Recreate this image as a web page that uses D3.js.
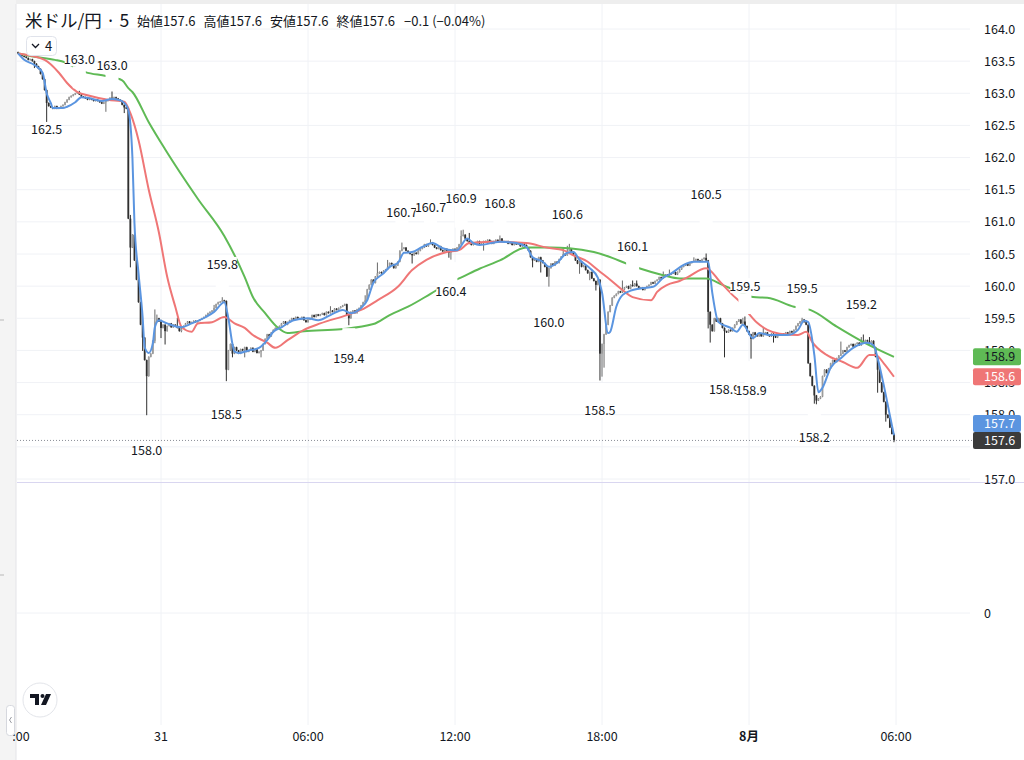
<!DOCTYPE html>
<html>
<head>
<meta charset="utf-8">
<script src="https://cdn.jsdelivr.net/npm/d3@7"></script>
<style>
  body { margin: 0; background: #fff; overflow: hidden; }
  svg { display: block; font-family: "Noto Sans CJK JP", "Noto Sans", sans-serif; }
</style>
</head>
<body>
<svg id="chart" width="1024" height="760"></svg>
<script>
// ---- data (5 min bars, bar 0 = 30 Jul 18:00) ----
const firstBar = 2;
const firstOpen = 163.64;
const closes = [
  163.62, 163.60, 163.58, 163.57, 163.55, 163.52, 163.53, 163.50,
  163.46, 163.42, 163.38, 163.30, 163.22,
  163.05, 162.85, 162.80, 162.78, 162.76,
  162.80, 162.76, 162.78, 162.80, 162.82, 162.86, 162.90, 162.94, 162.96, 162.98,
  163.00, 163.02, 162.98, 162.95, 162.94, 162.92, 162.90, 162.92, 162.90, 162.88,
  162.90, 162.88, 162.86, 162.84, 162.86, 162.88, 162.90, 162.93, 162.92, 162.94,
  162.92, 162.90, 162.88, 162.82, 162.78, 162.76, 161.05, 160.60, 160.80, 160.40,
  160.10, 159.75, 159.40, 159.20, 158.85, 158.60, 158.90, 158.95, 159.15, 159.45,
  159.50, 159.45, 159.35, 159.40, 159.30, 159.38, 159.42, 159.36, 159.40, 159.38,
  159.35, 159.30, 159.34, 159.38, 159.42, 159.45, 159.42, 159.44, 159.46, 159.44,
  159.46, 159.48, 159.50, 159.52, 159.55, 159.58, 159.60, 159.62, 159.66, 159.72,
  159.75, 159.76, 159.78, 159.77, 158.70, 159.00, 159.10, 158.95, 159.05, 159.00,
  158.95, 159.02, 159.00, 159.05, 158.98, 159.00, 159.04, 158.98, 159.02, 158.96,
  158.98, 159.00, 159.10, 159.18, 159.25, 159.22, 159.28, 159.32, 159.35, 159.34,
  159.38, 159.42, 159.45, 159.40, 159.44, 159.47, 159.50, 159.48, 159.52, 159.50,
  159.48, 159.52, 159.47, 159.44, 159.48, 159.50, 159.55, 159.52, 159.56, 159.54,
  159.56, 159.58, 159.55, 159.60, 159.58, 159.62, 159.60, 159.65, 159.63, 159.66,
  159.68, 159.70, 159.72, 159.55, 159.50, 159.60, 159.62, 159.58, 159.64, 159.66,
  159.70, 159.75, 159.78, 159.95, 160.02, 160.10, 160.05, 160.15, 160.20, 160.22,
  160.20, 160.24, 160.26, 160.30, 160.36, 160.34, 160.28, 160.32, 160.38, 160.55,
  160.58, 160.60, 160.55, 160.52, 160.50, 160.48, 160.52, 160.50, 160.55, 160.58,
  160.60, 160.65, 160.62, 160.66, 160.68, 160.64, 160.60, 160.58, 160.62, 160.56,
  160.54, 160.58, 160.55, 160.52, 160.56, 160.58, 160.55, 160.60, 160.65, 160.78,
  160.80, 160.74, 160.70, 160.66, 160.64, 160.68, 160.65, 160.70, 160.66, 160.68,
  160.70, 160.68, 160.72, 160.70, 160.66, 160.70, 160.72, 160.70, 160.74, 160.70,
  160.68, 160.70, 160.66, 160.68, 160.64, 160.68, 160.65, 160.66, 160.62, 160.66,
  160.64, 160.60, 160.55, 160.45, 160.40, 160.42, 160.38, 160.45, 160.40, 160.36,
  160.30, 160.15, 160.28, 160.35, 160.32, 160.38, 160.36, 160.42, 160.46, 160.50,
  160.48, 160.55, 160.58, 160.52, 160.48, 160.40, 160.35, 160.38, 160.30, 160.32,
  160.25, 160.20, 160.22, 160.12, 160.08, 160.02, 160.10, 158.95, 159.10, 159.25,
  159.40, 159.60, 159.70, 159.82, 159.85, 159.88, 159.92, 159.90, 159.95, 159.98,
  160.00, 159.96, 160.02, 160.00, 160.04, 160.00, 159.96, 159.98, 159.94, 159.98,
  160.00, 160.02, 160.06, 160.04, 160.08, 160.10, 160.14, 160.12, 160.16, 160.18,
  160.16, 160.18, 160.20, 160.22, 160.18, 160.22, 160.26, 160.30, 160.32, 160.35,
  160.32, 160.36, 160.38, 160.40, 160.42, 160.40, 160.38, 160.42, 160.44, 160.40,
  159.60, 159.40, 159.30, 159.50, 159.45, 159.50, 159.42, 159.35, 159.30, 159.28,
  159.32, 159.30, 159.35, 159.40, 159.45, 159.48, 159.42, 159.45, 159.38, 159.30,
  159.25, 159.18, 159.28, 159.24, 159.22, 159.26, 159.22, 159.25, 159.28, 159.24,
  159.22, 159.26, 159.24, 159.20, 159.25, 159.24, 159.26, 159.25, 159.28, 159.26,
  159.30, 159.28, 159.32, 159.38, 159.42, 159.45, 159.48, 159.44, 159.40, 158.80,
  158.60, 158.45, 158.30, 158.22, 158.25, 158.28, 158.60, 158.70, 158.65, 158.72,
  158.80, 158.85, 158.82, 158.88, 158.92, 158.95, 159.00, 158.98, 159.05, 159.08,
  159.10, 159.06, 159.10, 159.12, 159.08, 159.14, 159.12, 159.16, 159.14, 159.10,
  159.15, 159.05, 158.90, 158.70, 158.50, 158.35, 158.20, 158.00, 157.95, 157.80,
  157.70, 157.60
];
// visible wicks: [bar, high, low]
const extremes = [
  [10, null, 163.40], [16, null, 162.50], [30, 163.00, null], [32, 163.03, null],
  [45, null, 162.72], [48, 163.02, null], [54, null, 162.70], [57, 161.10, 160.30],
  [63, null, 159.00], [65, null, 158.00], [66, null, 158.70], [69, 159.63, 159.12],
  [70, 159.55, null], [72, 159.47, 159.20], [74, null, 159.10], [80, 159.50, null],
  [82, null, 159.29], [98, 159.70, null], [102, 159.82, null], [104, null, 158.53],
  [105, null, 158.85], [107, null, 158.90], [113, null, 158.90], [121, null, 158.90],
  [155, 159.68, null], [164, null, 159.40], [172, 159.85, null], [178, 160.36, null],
  [183, 160.40, null], [190, 160.67, null], [195, null, 160.36], [204, 160.72, null],
  [213, null, 160.45], [214, null, 160.42], [219, 160.86, null], [220, 160.87, null],
  [223, 160.82, null], [230, null, 160.56], [238, 160.78, null], [254, null, 160.30],
  [258, null, 160.22], [262, null, 160.00], [269, 160.60, null], [271, 160.62, null],
  [272, 160.65, null], [277, null, 160.20], [282, null, 160.10], [285, null, 159.94],
  [287, null, 158.54], [288, null, 158.60], [289, null, 158.74], [298, 160.08, null],
  [303, 160.08, null], [305, 160.08, null], [318, 160.22, null], [321, 160.25, null],
  [333, 160.44, null], [339, 160.50, null], [340, null, 159.35], [341, null, 159.13],
  [348, null, 158.90], [357, 159.50, null], [358, 159.52, null], [361, null, 158.88],
  [367, 159.36, null], [372, null, 159.13], [386, 159.50, null], [392, null, 158.18],
  [393, null, 158.17], [405, 159.13, null], [415, 159.20, null], [416, 159.24, null],
  [419, 159.20, null], [423, null, 158.35], [427, null, 157.90], [431, null, 157.58]
];
// moving averages: [bar, price]
const blueMA = [
  [2,163.62],[5,163.52],[10,163.44],[14,163.32],[16,163.0],[18,162.85],[19,162.77],[24,162.77],
  [26,162.79],[30,162.86],[33,162.94],[36,162.93],[43,162.88],[48,162.91],[51,162.9],[54,162.85],
  [56,162.74],[58,162.0],[59,160.98],[61,160.2],[63,159.52],[64,159.05],[66,158.96],[68,159.11],
  [69,159.36],[71,159.47],[75,159.42],[82,159.36],[87,159.42],[94,159.52],[98,159.6],[103,159.75],
  [105,159.5],[107,159.1],[108,158.98],[110,158.96],[115,159.0],[120,159.04],[124,159.16],[127,159.29],
  [131,159.36],[137,159.47],[144,159.5],[149,159.47],[155,159.55],[161,159.63],[165,159.58],[170,159.66],
  [173,159.78],[176,160.05],[181,160.2],[184,160.3],[188,160.36],[191,160.52],[195,160.53],[200,160.61],
  [205,160.67],[210,160.59],[215,160.56],[217,160.56],[222,160.74],[225,160.67],[228,160.64],[238,160.69],
  [246,160.67],[251,160.61],[254,160.45],[259,160.38],[262,160.3],[266,160.36],[271,160.52],[274,160.53],
  [277,160.41],[282,160.28],[286,160.13],[288,159.9],[291,159.27],[292,159.29],[295,159.68],[298,159.86],
  [303,159.94],[308,159.97],[313,159.99],[318,160.13],[322,160.2],[328,160.33],[333,160.38],[340,160.38],
  [342,159.9],[345,159.44],[351,159.35],[354,159.29],[357,159.4],[362,159.19],[365,159.27],[370,159.24],
  [379,159.24],[384,159.32],[387,159.46],[389,159.44],[392,158.93],[394,158.35],[396,158.42],[400,158.73],
  [405,158.88],[411,159.04],[418,159.12],[421,159.08],[423,158.88],[426,158.46],[429,157.99],[431,157.68]
];
const redMA = [
  [2,163.62],[15,163.52],[22,163.32],[26,163.16],[31,163.02],[36,162.97],[46,162.9],[54,162.87],
  [57,162.69],[61,162.27],[66,161.5],[71,160.83],[75,160.15],[79,159.68],[82,159.37],[87,159.29],
  [90,159.42],[97,159.44],[103,159.52],[108,159.42],[113,159.35],[117,159.24],[124,159.12],[128,159.04],
  [134,159.16],[142,159.32],[150,159.42],[163,159.55],[170,159.63],[178,159.78],[188,159.99],[195,160.25],
  [202,160.41],[212,160.53],[218,160.56],[223,160.67],[238,160.69],[251,160.67],[261,160.6],[269,160.56],
  [274,160.48],[281,160.38],[286,160.25],[292,160.1],[298,159.94],[303,159.83],[312,159.78],[315,159.91],
  [320,160.02],[326,160.08],[330,160.14],[339,160.28],[346,160.06],[352,159.86],[356,159.74],[360,159.57],
  [364,159.43],[369,159.32],[375,159.26],[384,159.24],[388,159.29],[391,159.13],[398,158.93],[406,158.82],
  [413,158.73],[419,158.93],[422,158.93],[426,158.8],[431,158.59]
];
const greenMA = [
  [2,163.62],[10,163.57],[20,163.52],[25,163.48],[30,163.40],[35,163.33],[45,163.27],[53,163.2],
  [56,163.08],[58,163.02],[66,162.55],[74,162.13],[90,161.36],[103,160.78],[113,160.14],[117,159.83],
  [123,159.58],[129,159.36],[134,159.27],[142,159.3],[160,159.33],[176,159.41],[184,159.55],[193,159.68],
  [204,159.88],[213,160.05],[218,160.12],[228,160.27],[238,160.4],[251,160.6],[263,160.6],[272,160.59],
  [284,160.53],[293,160.44],[300,160.35],[307,160.27],[318,160.17],[326,160.12],[339,160.12],[347,160.02],
  [356,159.9],[362,159.83],[369,159.82],[382,159.68],[390,159.63],[403,159.37],[416,159.13],[431,158.9]
];
// pivot labels: [bar, text, anchor price, kind]
const pivotLabels = [
  [16,"162.5",162.43,"low"], [32,"163.0",163.53,"high"], [48,"163.0",163.44,"high"],
  [65,"158.0",157.45,"low"], [102,"159.8",160.33,"high"], [104,"158.5",158.0,"low"],
  [164,"159.4",158.88,"low"], [190,"160.7",161.15,"high"], [204,"160.7",161.22,"high"],
  [214,"160.4",159.91,"low"], [219,"160.9",161.36,"high"], [238,"160.8",161.28,"high"],
  [262,"160.0",159.44,"low"], [271,"160.6",161.12,"high"], [287,"158.5",158.06,"low"],
  [303,"160.1",160.62,"high"], [339,"160.5",161.43,"high"], [348,"158.9",158.4,"low"],
  [358,"159.5",160.0,"high"], [361,"158.9",158.37,"low"], [386,"159.5",159.97,"high"],
  [392,"158.2",157.65,"low"], [415,"159.2",159.71,"high"]
];
const priceTicks = [157.0, 157.5, 158.0, 158.5, 159.0, 159.5, 160.0, 160.5, 161.0, 161.5, 162.0, 162.5, 163.0, 163.5, 164.0];
const timeTicks = [[0, "18:00"], [72, "31"], [144, "06:00"], [216, "12:00"], [288, "18:00"], [360, "8月"], [432, "06:00"]];
const headerTitle = "米ドル/円 · 5";
const headerFields = [["始値", "157.6"], ["高値", "157.6"], ["安値", "157.6"], ["終値", "157.6"]];
const headerChange = "−0.1 (−0.04%)";

// ---- colours ----
const blueC = "#5b95e0", redC = "#ef7676", greenC = "#5fba55";
const upC = "#9c9c9c", upWick = "#6a6a6a", downC = "#2f2f2f", textC = "#131722", gridC = "#f0f2f6";

const svg = d3.select("#chart");
const x = d3.scaleLinear().domain([0, 432]).range([14, 896]);
const y = d3.scaleLinear().domain([157, 164]).range([479, 29]);
const lowerY = 613; // zero line of the lower pane

// bars
const bars = closes.map((c, k) => {
  const i = firstBar + k;
  const o = k === 0 ? firstOpen : closes[k - 1];
  return { i, o, c, h: Math.max(o, c), l: Math.min(o, c) };
});
extremes.forEach(([i, h, l]) => {
  const b = bars[i - firstBar];
  if (h != null) b.h = Math.max(b.h, h);
  if (l != null) b.l = Math.min(b.l, l);
});

// frame
svg.append("rect").attr("width", 1024).attr("height", 760).attr("fill", "#fff");
svg.append("rect").attr("width", 1024).attr("height", 4).attr("fill", "#eeeeee");
svg.append("rect").attr("width", 16).attr("height", 760).attr("fill", "#f4f4f4");
svg.append("line").attr("x1", 16).attr("x2", 16).attr("y1", 4).attr("y2", 760).attr("stroke", "#e4e4e8");
[320, 575].forEach(v => svg.append("line").attr("x1", 0).attr("x2", 4).attr("y1", v).attr("y2", v).attr("stroke", "#b8b8b8"));

const defs = svg.append("defs");
defs.append("clipPath").attr("id", "plot").append("rect").attr("x", 17).attr("y", 4).attr("width", 953).attr("height", 478);
defs.append("clipPath").attr("id", "axisClip").append("rect").attr("x", 13).attr("y", 0).attr("width", 1011).attr("height", 760);

// grid
const grid = svg.append("g");
grid.selectAll(".hg").data(priceTicks).enter().append("line")
  .attr("x1", 17).attr("x2", 970).attr("y1", d => y(d)).attr("y2", d => y(d))
  .attr("stroke", gridC);
grid.append("line").attr("x1", 17).attr("x2", 970).attr("y1", lowerY).attr("y2", lowerY).attr("stroke", gridC);
grid.selectAll(".vg").data(timeTicks.filter(d => x(d[0]) > 17)).enter().append("line")
  .attr("x1", d => x(d[0])).attr("x2", d => x(d[0])).attr("y1", 4).attr("y2", 725)
  .attr("stroke", gridC);

// pane separator
svg.append("line").attr("x1", 17).attr("x2", 1024).attr("y1", 482.5).attr("y2", 482.5).attr("stroke", "#d9d6f0");

const plot = svg.append("g").attr("clip-path", "url(#plot)");

// current price line
const last = bars[bars.length - 1];
svg.append("line").attr("x1", 17).attr("x2", 972).attr("y1", y(last.c)).attr("y2", y(last.c))
  .attr("stroke", "#8a8d96").attr("stroke-dasharray", "1,2");

// candles
const bw = 1.8;
const cg = plot.append("g");
cg.selectAll(".wick").data(bars).enter().append("line")
  .attr("x1", d => x(d.i)).attr("x2", d => x(d.i))
  .attr("y1", d => y(d.h) - 0.5).attr("y2", d => y(d.l) + 0.5)
  .attr("stroke", d => d.c >= d.o ? upWick : downC).attr("stroke-width", 1);
cg.selectAll(".body").data(bars).enter().append("rect")
  .attr("x", d => x(d.i) - bw / 2).attr("width", bw)
  .attr("y", d => y(Math.max(d.o, d.c)))
  .attr("height", d => Math.max(1.2, Math.abs(y(d.o) - y(d.c))))
  .attr("fill", d => d.c >= d.o ? upC : downC);

// moving averages
const maLine = d3.line().x(d => x(d[0])).y(d => y(d[1])).curve(d3.curveMonotoneX);
[[greenMA, greenC], [redMA, redC], [blueMA, blueC]].forEach(([pts, col]) => {
  plot.append("path").attr("d", maLine(pts)).attr("fill", "none")
    .attr("stroke", col).attr("stroke-width", 2).attr("stroke-linejoin", "round");
});

// pivot labels (white label box with a pointer toward the bar)
const lg = plot.append("g");
pivotLabels.slice().sort((a, b) => a[0] - b[0]).forEach(([i, txt, anchor, kind]) => {
  const b = bars[i - firstBar];
  const cx = x(i), ty = y(anchor);
  if (kind === "high") {
    const top = ty + 7, bottom = y(b.h) - 3;
    const len = Math.min(22, bottom - top);
    if (len > 0) lg.append("rect").attr("x", cx - 6.5).attr("y", top).attr("width", 13).attr("height", len).attr("fill", "#fff");
  } else {
    const bottom = ty - 8, top = y(b.l) + 3;
    const len = Math.min(22, bottom - top);
    if (len > 0) lg.append("rect").attr("x", cx - 6.5).attr("y", bottom - len).attr("width", 13).attr("height", len).attr("fill", "#fff");
  }
  const box = lg.append("rect").attr("y", ty - 8).attr("height", 15).attr("fill", "#fff");
  const t = lg.append("text").attr("x", cx).attr("y", ty + 4.5).attr("text-anchor", "middle")
    .attr("font-size", 12.5).attr("fill", textC).text(txt);
  const w = t.node().getComputedTextLength() - 2;
  box.attr("x", cx - w / 2).attr("width", w);
});

// price tags
const tags = [
  { v: greenMA[greenMA.length - 1][1], bg: greenC, fg: textC },
  { v: redMA[redMA.length - 1][1], bg: redC, fg: "#fff" },
  { v: blueMA[blueMA.length - 1][1], bg: blueC, fg: "#fff" },
  { v: last.c, bg: "#3b3b3b", fg: "#fff" }
];
tags.forEach(t => t.y = y(t.v));
tags.sort((a, b) => b.y - a.y);
for (let k = 1; k < tags.length; k++) {
  if (tags[k - 1].y - tags[k].y < 17) tags[k].y = tags[k - 1].y - 17;
}

// price axis labels (the one under the last-price tag is hidden)
const ax = svg.append("g");
ax.selectAll(".pt").data(priceTicks.filter(d => Math.abs(y(d) - y(last.c)) > 9)).enter().append("text")
  .attr("x", 984).attr("y", d => y(d) + 4.5).attr("font-size", 12.5).attr("fill", textC)
  .text(d => d.toFixed(1));
ax.append("text").attr("x", 984).attr("y", lowerY + 4.5).attr("font-size", 12.5).attr("fill", textC).text("0");

tags.forEach(t => {
  ax.append("rect").attr("x", 973).attr("y", t.y - 8.5).attr("width", 48).attr("height", 17)
    .attr("rx", 2).attr("fill", t.bg);
  ax.append("text").attr("x", 984).attr("y", t.y + 4.5).attr("font-size", 12.5).attr("fill", t.fg)
    .text(t.v.toFixed(1));
});

// time axis
const tx = svg.append("g").attr("clip-path", "url(#axisClip)");
tx.selectAll(".tt").data(timeTicks).enter().append("text")
  .attr("x", d => x(d[0])).attr("y", 741).attr("text-anchor", "middle")
  .attr("font-size", 12.5).attr("fill", textC)
  .attr("font-weight", d => d[1] === "8月" ? 700 : 400)
  .text(d => d[1]);

// header
svg.append("text").attr("x", 25).attr("y", 27).attr("font-size", 17.5).attr("fill", textC).text(headerTitle);
let hx = 137;
headerFields.forEach(([k, v]) => {
  const t = svg.append("text").attr("x", hx).attr("y", 26).attr("font-size", 13).attr("fill", textC);
  t.append("tspan").text(k);
  t.append("tspan").text(v);
  hx += t.node().getComputedTextLength() + 8;
});
svg.append("text").attr("x", hx + 1).attr("y", 26).attr("font-size", 13).attr("fill", textC).text(headerChange);

// indicator dropdown
svg.append("rect").attr("x", 26.5).attr("y", 36.5).attr("width", 30).attr("height", 19).attr("rx", 4)
  .attr("fill", "#fff").attr("stroke", "#e0e3eb");
svg.append("path").attr("d", "M32,44 l3.5,3.5 l3.5,-3.5").attr("fill", "none").attr("stroke", textC).attr("stroke-width", 1.3);
svg.append("text").attr("x", 45).attr("y", 51).attr("font-size", 13).attr("fill", textC).text("4");

// logo
svg.append("circle").attr("cx", 40).attr("cy", 700).attr("r", 17).attr("fill", "#fff").attr("stroke", "#e3e5ea");
svg.append("path").attr("d", "M30,694 h9 v11 h-4 v-7 h-5 z").attr("fill", "#131722");
svg.append("circle").attr("cx", 42.5).attr("cy", 696).attr("r", 2).attr("fill", "#131722");
svg.append("path").attr("d", "M46,694 h5 l-5,11 h-5 z").attr("fill", "#131722");

// collapse tab
svg.append("rect").attr("x", 6.5).attr("y", 705.5).attr("width", 8).attr("height", 30).attr("rx", 3)
  .attr("fill", "#fff").attr("stroke", "#d6d8de");
svg.append("path").attr("d", "M11.5,717 l-2,3 l2,3").attr("fill", "none").attr("stroke", "#9a9ca3");
</script>
</body>
</html>
